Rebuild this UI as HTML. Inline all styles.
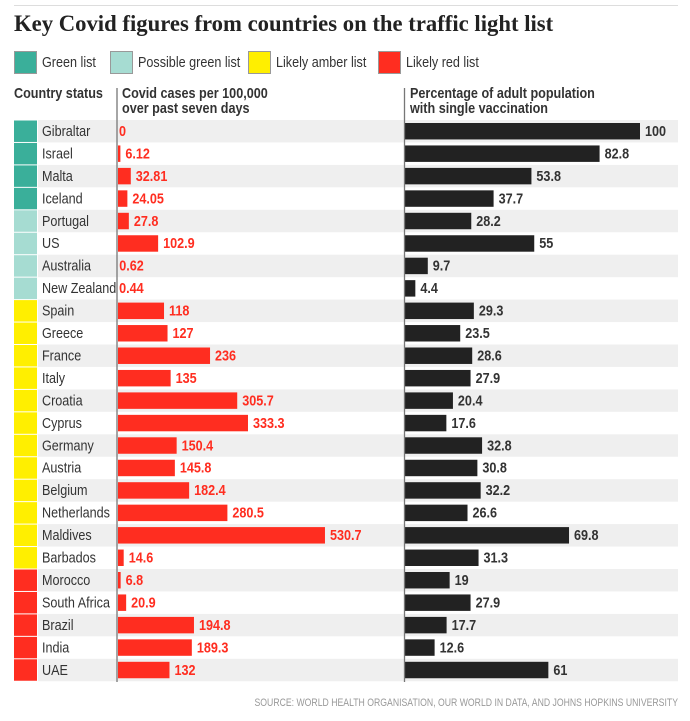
<!DOCTYPE html>
<html><head><meta charset="utf-8">
<style>
body{margin:0;background:#fff;width:690px;height:716px;overflow:hidden;font-family:"Liberation Sans",sans-serif;}
svg text{font-family:"Liberation Sans",sans-serif;}
</style></head><body>
<svg id="c" width="690" height="716" xmlns="http://www.w3.org/2000/svg">
<line x1="14" y1="5.5" x2="678" y2="5.5" stroke="#ddd"/>
<text class="title" x="14" y="31" font-weight="bold" font-size="22.7" fill="#222" style="font-family:'Liberation Serif',serif">Key Covid figures from countries on the traffic light list</text>
<g>
<rect x="14.5" y="51.5" width="22" height="22" fill="#3aaf9a" stroke="#999"/>
<text x="42" y="67" font-size="14.5" fill="#333">Green list</text>
<rect x="110.5" y="51.5" width="22" height="22" fill="#a6dcd2" stroke="#999"/>
<text x="138" y="67" font-size="14.5" fill="#333">Possible green list</text>
<rect x="248.5" y="51.5" width="22" height="22" fill="#ffef00" stroke="#999"/>
<text x="276" y="67" font-size="14.5" fill="#333">Likely amber list</text>
<rect x="378.5" y="51.5" width="22" height="22" fill="#ff2d20" stroke="#999"/>
<text x="406" y="67" font-size="14.5" fill="#333">Likely red list</text>
</g>
<text x="14" y="98" font-size="14.5" font-weight="bold" fill="#333">Country status</text>
<text x="122" y="98" font-size="14.5" font-weight="bold" fill="#333">Covid cases per 100,000</text>
<text x="122" y="113" font-size="14.5" font-weight="bold" fill="#333">over past seven days</text>
<text x="410" y="98" font-size="14.5" font-weight="bold" fill="#333">Percentage of adult population</text>
<text x="410" y="113" font-size="14.5" font-weight="bold" fill="#333">with single vaccination</text>
<g id="rows"></g>
<line x1="117" y1="88" x2="117" y2="682" stroke="#777" stroke-width="1.3"/>
<line x1="404.5" y1="88" x2="404.5" y2="682" stroke="#777" stroke-width="1.3"/>
<text class="src" x="678" y="706" font-size="11" fill="#999" text-anchor="end">SOURCE: WORLD HEALTH ORGANISATION, OUR WORLD IN DATA, AND JOHNS HOPKINS UNIVERSITY</text>
</svg>
<script>
const countries=["Gibraltar","Israel","Malta","Iceland","Portugal","US","Australia","New Zealand","Spain","Greece","France","Italy","Croatia","Cyprus","Germany","Austria","Belgium","Netherlands","Maldives","Barbados","Morocco","South Africa","Brazil","India","UAE"];
const statuses=["g","g","g","g","p","p","p","p","a","a","a","a","a","a","a","a","a","a","a","a","r","r","r","r","r"];
const cases=[0,6.12,32.81,24.05,27.8,102.9,0.62,0.44,118,127,236,135,305.7,333.3,150.4,145.8,182.4,280.5,530.7,14.6,6.8,20.9,194.8,189.3,132];
const caseLabels=["0","6.12","32.81","24.05","27.8","102.9","0.62","0.44","118","127","236","135","305.7","333.3","150.4","145.8","182.4","280.5","530.7","14.6","6.8","20.9","194.8","189.3","132"];
const vacc=[100,82.8,53.8,37.7,28.2,55,9.7,4.4,29.3,23.5,28.6,27.9,20.4,17.6,32.8,30.8,32.2,26.6,69.8,31.3,19,27.9,17.7,12.6,61];
const statusColors={g:"#3aaf9a",p:"#a6dcd2",a:"#ffef00",r:"#ff2d20"};
const NS="http://www.w3.org/2000/svg";
const g=document.getElementById("rows");
const top0=120, pitch=22.45;
const xCase=v=>118+v*0.39;
const xVacc=v=>405+v*2.35;
function mk(t,a){const e=document.createElementNS(NS,t);for(const k in a)e.setAttribute(k,a[k]);g.appendChild(e);return e;}
countries.forEach((c,i)=>{
 const y=top0+i*pitch;
 if(i%2===0){const bg=mk("rect",{x:38,y:y,width:640,height:pitch,fill:"#efefef"});
 
 }
 const s=mk("rect",{x:14,y:y+0.5,width:23,height:pitch-1,fill:statusColors[statuses[i]]});
 
 
 const t=mk("text",{x:42,y:y+16,"font-size":14.5,fill:"#333"});t.textContent=c;
 
 
 const w=xCase(cases[i])-118;
 if(w>0.3){const b=mk("rect",{x:118,y:y+3,width:w,height:pitch-6,fill:"#ff2d20"});
 
 }
 const cl=mk("text",{x:xCase(cases[i])+(w>0.3?5:1),y:y+16,"font-size":14.5,"font-weight":"bold",fill:"#ff2d20"});cl.textContent=caseLabels[i];
 
 
 const vb=mk("rect",{x:405,y:y+3,width:xVacc(vacc[i])-405,height:pitch-6,fill:"#222"});
 
 
 const vl=mk("text",{x:xVacc(vacc[i])+5,y:y+16,"font-size":14.5,"font-weight":"bold",fill:"#333"});vl.textContent=String(vacc[i]);
 
 
});
document.querySelectorAll("svg text").forEach(t=>{
 if(t.classList.contains("title"))return;
 const SX=t.classList.contains("src")?0.79:0.87;
 const x=parseFloat(t.getAttribute("x"));
 t.setAttribute("x",x/SX);
 t.setAttribute("transform","scale("+SX+" 1)");
});
</script>
</body></html>
